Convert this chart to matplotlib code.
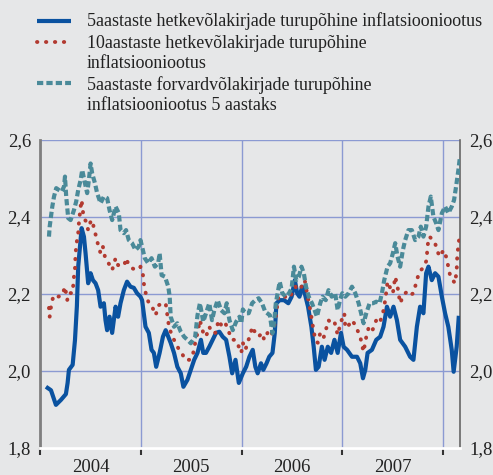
import matplotlib
matplotlib.use("Agg")
import matplotlib.pyplot as plt
from matplotlib.lines import Line2D
from matplotlib.ticker import FixedLocator, FuncFormatter

# 5-year spot break-even inflation (decimal year, %)
t_spot5 = [2004.076, 2004.109, 2004.158, 2004.208, 2004.257, 2004.274, 2004.287, 2004.324, 2004.347, 2004.366,
           2004.379, 2004.403, 2004.413, 2004.436, 2004.452, 2004.478, 2004.502, 2004.525, 2004.551, 2004.577,
           2004.601, 2004.634, 2004.650, 2004.666, 2004.690, 2004.716, 2004.733, 2004.750, 2004.775, 2004.799,
           2004.832, 2004.864, 2004.898, 2004.931, 2004.963, 2004.997, 2005.013, 2005.047, 2005.080, 2005.107,
           2005.130, 2005.153, 2005.187, 2005.220, 2005.247, 2005.273, 2005.297, 2005.330, 2005.363, 2005.397,
           2005.423, 2005.463, 2005.497, 2005.530, 2005.563, 2005.597, 2005.620, 2005.647, 2005.680, 2005.713,
           2005.747, 2005.780, 2005.813, 2005.847, 2005.880, 2005.907, 2005.940, 2005.973, 2006.013, 2006.046,
           2006.078, 2006.111, 2006.137, 2006.160, 2006.193, 2006.216, 2006.248, 2006.275, 2006.307, 2006.330,
           2006.346, 2006.379, 2006.422, 2006.464, 2006.497, 2006.529, 2006.552, 2006.575, 2006.601, 2006.627,
           2006.660, 2006.693, 2006.716, 2006.738, 2006.765, 2006.797, 2006.824, 2006.856, 2006.889, 2006.922,
           2006.954, 2006.987, 2007.013, 2007.047, 2007.096, 2007.146, 2007.178, 2007.205, 2007.228, 2007.251,
           2007.294, 2007.337, 2007.376, 2007.409, 2007.443, 2007.475, 2007.508, 2007.542, 2007.574, 2007.624,
           2007.673, 2007.706, 2007.740, 2007.772, 2007.805, 2007.832, 2007.855, 2007.888, 2007.921, 2007.954,
           2007.988, 2008.020, 2008.052, 2008.086, 2008.105, 2008.135, 2008.155]
v_spot5 = [1.956, 1.950, 1.912, 1.925, 1.940, 1.969, 2.003, 2.016, 2.080, 2.168,
           2.271, 2.340, 2.371, 2.349, 2.306, 2.228, 2.254, 2.236, 2.228, 2.210,
           2.167, 2.176, 2.132, 2.106, 2.141, 2.099, 2.132, 2.167, 2.141, 2.176,
           2.210, 2.232, 2.219, 2.216, 2.202, 2.193, 2.184, 2.115, 2.099, 2.055,
           2.047, 2.011, 2.047, 2.089, 2.106, 2.089, 2.073, 2.047, 2.011, 1.994,
           1.959, 1.977, 2.003, 2.029, 2.047, 2.081, 2.047, 2.047, 2.063, 2.081,
           2.099, 2.102, 2.089, 2.081, 2.037, 1.994, 2.029, 1.969, 1.994, 2.011,
           2.037, 2.055, 2.011, 1.994, 2.020, 2.003, 2.020, 2.037, 2.047, 2.099,
           2.176, 2.184, 2.184, 2.176, 2.193, 2.236, 2.202, 2.193, 2.219, 2.202,
           2.167, 2.115, 2.063, 2.003, 2.011, 2.063, 2.029, 2.063, 2.047, 2.081,
           2.047, 2.099, 2.063, 2.055, 2.037, 2.037, 2.020, 1.981, 2.003, 2.047,
           2.055, 2.081, 2.089, 2.115, 2.167, 2.141, 2.167, 2.132, 2.081, 2.063,
           2.037, 2.029, 2.115, 2.167, 2.150, 2.254, 2.271, 2.236, 2.254, 2.245,
           2.193, 2.150, 2.115, 2.055, 1.998, 2.063, 2.138]

# 10-year spot break-even inflation
t_spot10 = [2004.089, 2004.096, 2004.116, 2004.139, 2004.181, 2004.221, 2004.248, 2004.270, 2004.287, 2004.320,
            2004.330, 2004.337, 2004.347, 2004.353, 2004.363, 2004.379, 2004.386, 2004.403, 2004.413, 2004.426,
            2004.436, 2004.458, 2004.478, 2004.502, 2004.518, 2004.535, 2004.557, 2004.577, 2004.601, 2004.624,
            2004.644, 2004.666, 2004.690, 2004.716, 2004.750, 2004.775, 2004.809, 2004.842, 2004.854, 2004.881,
            2004.914, 2004.953, 2004.980, 2004.997, 2005.020, 2005.030, 2005.053, 2005.080, 2005.113, 2005.147,
            2005.180, 2005.213, 2005.247, 2005.280, 2005.313, 2005.347, 2005.380, 2005.407, 2005.440, 2005.480,
            2005.513, 2005.540, 2005.563, 2005.587, 2005.620, 2005.647, 2005.680, 2005.707, 2005.740, 2005.773,
            2005.807, 2005.840, 2005.873, 2005.907, 2005.940, 2005.973, 2005.997, 2006.013, 2006.039, 2006.062,
            2006.088, 2006.105, 2006.137, 2006.170, 2006.203, 2006.225, 2006.258, 2006.291, 2006.324, 2006.340,
            2006.366, 2006.399, 2006.431, 2006.464, 2006.503, 2006.536, 2006.562, 2006.595, 2006.627, 2006.650,
            2006.683, 2006.706, 2006.732, 2006.758, 2006.781, 2006.814, 2006.836, 2006.863, 2006.889, 2006.922,
            2006.954, 2006.987, 2007.020, 2007.030, 2007.063, 2007.096, 2007.129, 2007.178, 2007.195, 2007.211,
            2007.238, 2007.261, 2007.294, 2007.337, 2007.370, 2007.403, 2007.426, 2007.449, 2007.475, 2007.502,
            2007.525, 2007.548, 2007.574, 2007.607, 2007.641, 2007.673, 2007.706, 2007.740, 2007.765, 2007.799,
            2007.838, 2007.844, 2007.864, 2007.898, 2007.921, 2007.944, 2007.970, 2008.003, 2008.030, 2008.052,
            2008.069, 2008.096, 2008.119, 2008.135, 2008.141, 2008.161]
v_spot10 = [2.164, 2.141, 2.180, 2.197, 2.193, 2.197, 2.219, 2.184, 2.203, 2.202,
            2.223, 2.245, 2.267, 2.306, 2.332, 2.358, 2.384, 2.427, 2.444, 2.414,
            2.397, 2.388, 2.366, 2.388, 2.392, 2.371, 2.349, 2.327, 2.306, 2.323,
            2.297, 2.288, 2.275, 2.262, 2.293, 2.275, 2.271, 2.280, 2.293, 2.275,
            2.267, 2.262, 2.267, 2.271, 2.254, 2.228, 2.197, 2.176, 2.167, 2.145,
            2.171, 2.176, 2.176, 2.115, 2.089, 2.073, 2.055, 2.047, 2.029, 2.029,
            2.037, 2.073, 2.099, 2.132, 2.099, 2.089, 2.115, 2.099, 2.099, 2.132,
            2.115, 2.124, 2.102, 2.081, 2.081, 2.063, 2.047, 2.073, 2.055, 2.076,
            2.094, 2.115, 2.099, 2.089, 2.099, 2.081, 2.099, 2.089, 2.115, 2.141,
            2.193, 2.197, 2.193, 2.188, 2.202, 2.219, 2.210, 2.219, 2.236, 2.202,
            2.158, 2.119, 2.081, 2.073, 2.099, 2.086, 2.106, 2.132, 2.124, 2.128,
            2.094, 2.128, 2.150, 2.112, 2.119, 2.132, 2.119, 2.089, 2.068, 2.050,
            2.089, 2.112, 2.102, 2.132, 2.124, 2.150, 2.184, 2.232, 2.216, 2.202,
            2.245, 2.219, 2.176, 2.197, 2.206, 2.197, 2.202, 2.236, 2.258, 2.267,
            2.288, 2.323, 2.349, 2.341, 2.332, 2.310, 2.297, 2.314, 2.297, 2.271,
            2.249, 2.236, 2.228, 2.262, 2.301, 2.345]

# 5-year forward break-even inflation 5 years ahead
t_fwd = [2004.089, 2004.096, 2004.122, 2004.139, 2004.161, 2004.188, 2004.215, 2004.238, 2004.248, 2004.260,
         2004.280, 2004.304, 2004.337, 2004.359, 2004.379, 2004.403, 2004.419, 2004.446, 2004.468, 2004.485,
         2004.502, 2004.518, 2004.545, 2004.567, 2004.601, 2004.634, 2004.666, 2004.690, 2004.716, 2004.750,
         2004.782, 2004.799, 2004.832, 2004.854, 2004.881, 2004.914, 2004.948, 2004.980, 2004.997, 2005.013,
         2005.040, 2005.073, 2005.107, 2005.140, 2005.173, 2005.187, 2005.207, 2005.240, 2005.273, 2005.287,
         2005.297, 2005.330, 2005.363, 2005.397, 2005.430, 2005.463, 2005.497, 2005.540, 2005.563, 2005.587,
         2005.620, 2005.647, 2005.680, 2005.707, 2005.730, 2005.763, 2005.797, 2005.830, 2005.853, 2005.880,
         2005.913, 2005.947, 2005.980, 2005.997, 2006.013, 2006.039, 2006.071, 2006.105, 2006.137, 2006.170,
         2006.203, 2006.235, 2006.281, 2006.307, 2006.324, 2006.340, 2006.379, 2006.405, 2006.438, 2006.471,
         2006.497, 2006.520, 2006.543, 2006.569, 2006.595, 2006.618, 2006.640, 2006.667, 2006.699, 2006.725,
         2006.748, 2006.781, 2006.804, 2006.836, 2006.863, 2006.895, 2006.929, 2006.954, 2006.977, 2007.000,
         2007.030, 2007.063, 2007.096, 2007.129, 2007.162, 2007.186, 2007.211, 2007.238, 2007.271, 2007.304,
         2007.337, 2007.370, 2007.393, 2007.416, 2007.449, 2007.475, 2007.502, 2007.525, 2007.548, 2007.574,
         2007.601, 2007.624, 2007.656, 2007.690, 2007.723, 2007.756, 2007.779, 2007.805, 2007.832, 2007.855,
         2007.878, 2007.904, 2007.931, 2007.954, 2007.988, 2008.020, 2008.052, 2008.086, 2008.109, 2008.129,
         2008.152, 2008.168]
v_fwd = [2.349, 2.375, 2.427, 2.453, 2.475, 2.470, 2.466, 2.479, 2.505, 2.453,
         2.397, 2.392, 2.418, 2.440, 2.470, 2.496, 2.522, 2.488, 2.462, 2.496,
         2.539, 2.513, 2.488, 2.462, 2.436, 2.453, 2.449, 2.418, 2.392, 2.427,
         2.410, 2.366, 2.358, 2.366, 2.340, 2.332, 2.314, 2.323, 2.340, 2.323,
         2.293, 2.280, 2.293, 2.271, 2.280, 2.306, 2.249, 2.245, 2.219, 2.193,
         2.141, 2.115, 2.124, 2.102, 2.089, 2.081, 2.072, 2.089, 2.145, 2.176,
         2.128, 2.150, 2.176, 2.132, 2.158, 2.184, 2.158, 2.150, 2.176, 2.132,
         2.106, 2.128, 2.141, 2.124, 2.160, 2.150, 2.150, 2.176, 2.184, 2.189,
         2.176, 2.154, 2.145, 2.098, 2.128, 2.176, 2.232, 2.202, 2.193, 2.202,
         2.215, 2.271, 2.236, 2.245, 2.271, 2.254, 2.219, 2.193, 2.176, 2.158,
         2.141, 2.176, 2.193, 2.184, 2.210, 2.193, 2.202, 2.158, 2.184, 2.202,
         2.193, 2.202, 2.219, 2.202, 2.176, 2.150, 2.124, 2.150, 2.176, 2.176,
         2.180, 2.176, 2.202, 2.236, 2.271, 2.280, 2.306, 2.332, 2.297, 2.271,
         2.314, 2.340, 2.366, 2.366, 2.340, 2.349, 2.375, 2.349, 2.375, 2.427,
         2.453, 2.401, 2.384, 2.366, 2.410, 2.427, 2.410, 2.427, 2.444, 2.479,
         2.522, 2.557]

years = [2004, 2005, 2006, 2007]
labels = [["5aastaste hetkevõlakirjade turupõhine inflatsiooniootus"],
          ["10aastaste hetkevõlakirjade turupõhine", "inflatsiooniootus"],
          ["5aastaste forvardvõlakirjade turupõhine", "inflatsiooniootus 5 aastaks"]]

bg = "#e6e7e8"
c_blue = "#0a52a0"
c_red = "#b23a30"
c_teal = "#4a8a99"
grid_c = "#8b9ad2"
txt_c = "#222222"

dot_ls = (0, (0.1, 2.2))
dash_ls = (0, (1.5, 0.75))

plt.rcParams["font.family"] = ["Liberation Serif", "DejaVu Serif"]

W, H = 493, 475
fig = plt.figure(figsize=(W / 100, H / 100), dpi=100, facecolor=bg)
ax = fig.add_axes([40 / W, 1 - 448 / H, 420 / W, 308 / H], facecolor=bg)

ax.plot(t_spot5, v_spot5, color=c_blue, lw=3.0, solid_joinstyle="round", zorder=3)
ax.plot(t_spot10, v_spot10, color=c_red, lw=2.8, linestyle=dot_ls,
        dash_capstyle="round", zorder=4)
ax.plot(t_fwd, v_fwd, color=c_teal, lw=3.0, linestyle=dash_ls,
        dash_capstyle="butt", zorder=5)

ax.set_xlim(2004.0, 2008.168)
ax.set_ylim(1.8, 2.6)

ax.xaxis.set_major_locator(FixedLocator(years + [years[-1] + 1]))
ax.xaxis.set_minor_locator(FixedLocator([y + 0.5 for y in years]))
ax.xaxis.set_major_formatter(FuncFormatter(lambda v, p: ""))
ax.xaxis.set_minor_formatter(FuncFormatter(lambda v, p: str(int(v))))
ax.tick_params(axis="x", which="major", direction="out", length=5, width=1.5, color="#333333")
ax.tick_params(axis="x", which="minor", length=0, labelsize=13.5, pad=8, colors=txt_c)

ax.set_yticks([1.8, 2.0, 2.2, 2.4, 2.6])
ax.yaxis.set_major_formatter(FuncFormatter(lambda v, p: f"{v:.1f}".replace(".", ",")))
ax.tick_params(axis="y", length=0, labelsize=13.5, labelleft=True, labelright=True,
               pad=6.5, colors=txt_c)

ax.grid(True, which="major", color=grid_c, lw=1.0)
ax.set_axisbelow(True)

ax.spines["top"].set_visible(False)
ax.spines["left"].set_color("#7f7f7f")
ax.spines["left"].set_linewidth(2.0)
ax.spines["right"].set_color("#666666")
ax.spines["right"].set_linewidth(1.2)
ax.spines["bottom"].set_color("white")
ax.spines["bottom"].set_linewidth(2.0)

# legend drawn by hand so the keys sit on the first text line
keys = [(20.7, 26.5, c_blue, "-", 3.0, "butt"),
        (42.3, 47.5, c_red, dot_ls, 2.8, "round"),
        (83.3, 89.5, c_teal, dash_ls, 3.0, "butt")]
for (ykey, ybase, col, ls, lw, cap), lines in zip(keys, labels):
    yf = 1 - ykey / H
    fig.add_artist(Line2D([37 / W, 71 / W], [yf, yf], color=col, lw=lw, linestyle=ls,
                          dash_capstyle=cap, solid_capstyle="butt"))
    for i, line in enumerate(lines):
        fig.text(87 / W, 1 - (ybase + 21 * i) / H, line, ha="left", va="baseline",
                 fontsize=12.9, color=txt_c)

fig.savefig("out.png", dpi=100, facecolor=bg)
